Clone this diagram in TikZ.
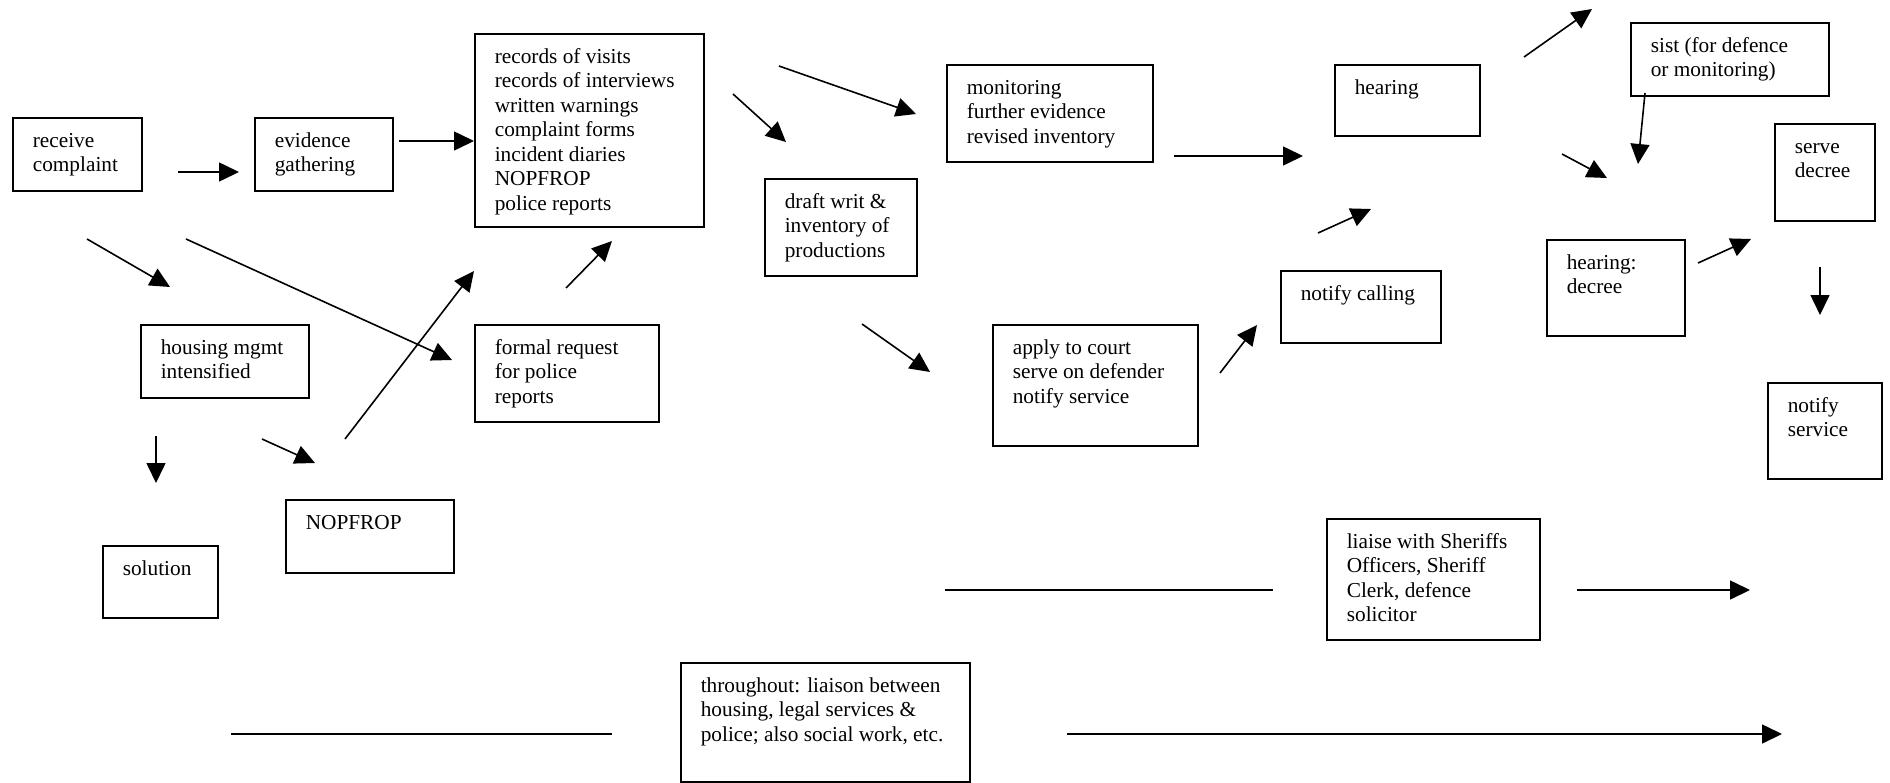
\documentclass[tikz,border=0pt]{standalone}
\usepackage{fontspec}
\setmainfont{Liberation Serif}
\usetikzlibrary{arrows.meta}
\newcommand{\bc}[3]{\parbox[t][\dimexpr#2pt/2-12.1pt\relax][t]{\dimexpr#1pt/2-20pt\relax}{\begin{tabular}[t]{@{}l@{}}#3\end{tabular}}}
\tikzset{
  bx/.style={draw, rectangle, line width=0.8pt, inner xsep=10pt, inner ysep=6.05pt, anchor=north west,
             font=\fontsize{10.65}{12.25}\selectfont},
  arr/.style={line width=0.8pt, -{Triangle[length=10pt,width=9.5pt]}},
  ln/.style={line width=0.8pt}
}
\begin{document}
\begin{tikzpicture}[x=0.5pt,y=-0.5pt]
\useasboundingbox (0,0) rectangle (1890,782);
% boxes
\node[bx] (rc)   at (12,117)   {\bc{129}{73}{receive\\complaint}};
\node[bx] (eg)   at (254,117)  {\bc{138}{73}{evidence\\gathering}};
\node[bx] (rec)  at (474,33)   {\bc{229}{193}{records of visits\\records of interviews\\written warnings\\complaint forms\\incident diaries\\NOPFROP\\police reports}};
\node[bx] (hm)   at (140,324)  {\bc{168}{73}{housing mgmt\\intensified}};
\node[bx] (fr)   at (474,324)  {\bc{184}{97}{formal request\\for police\\reports}};
\node[bx] (np)   at (285,499)  {\bc{168}{73}{NOPFROP}};
\node[bx] (sol)  at (102,545)  {\bc{115}{72}{solution}};
\node[bx] (dw)   at (764,178)  {\bc{152}{97}{draft writ \&\\inventory of\\productions}};
\node[bx] (mon)  at (946,64)   {\bc{206}{97}{monitoring\\further evidence\\revised inventory}};
\node[bx] (ap)   at (992,324)  {\bc{205}{121}{apply to court\\serve on defender\\notify service}};
\node[bx] (nc)   at (1280,270) {\bc{160}{72}{notify calling}};
\node[bx] (hr)   at (1334,64)  {\bc{145}{71}{hearing}};
\node[bx] (sist) at (1630,22)  {\bc{198}{73}{sist (for defence\\or monitoring)}};
\node[bx] (sd)   at (1774,123) {\bc{100}{97}{serve\\decree}};
\node[bx] (hd)   at (1546,239) {\bc{138}{96}{hearing:\\decree}};
\node[bx] (ns)   at (1767,382) {\bc{114}{96}{notify\\service}};
\node[bx] (li)   at (1326,518) {\bc{213}{121}{liaise with Sheriffs\\Officers, Sheriff\\Clerk, defence\\solicitor}};
\node[bx] (th)   at (680,662)  {\bc{289}{119}{throughout: liaison between\\housing, legal services \&\\police; also social work, etc.}};
% arrow end points
\coordinate (a1s) at (178,172);  \coordinate (a1e) at (239,172);
\coordinate (a2s) at (399,141);  \coordinate (a2e) at (474,141);
\coordinate (a3s) at (87,239);   \coordinate (a3e) at (170,287);
\coordinate (a4s) at (186,239);  \coordinate (a4e) at (452,360);
\coordinate (a5s) at (345,439);  \coordinate (a5e) at (474,271);
\coordinate (a6s) at (566,288);  \coordinate (a6e) at (612,241);
\coordinate (a7s) at (156,436);  \coordinate (a7e) at (156,483);
\coordinate (a8s) at (262,439);  \coordinate (a8e) at (315,463);
\coordinate (a9s) at (733,94);   \coordinate (a9e) at (786,142);
\coordinate (a10s) at (779,66);  \coordinate (a10e) at (916,114);
\coordinate (a11s) at (1174,156); \coordinate (a11e) at (1303,156);
\coordinate (a12s) at (862,324); \coordinate (a12e) at (930,372);
\coordinate (a13s) at (1220,373); \coordinate (a13e) at (1257,325);
\coordinate (a14s) at (1318,233); \coordinate (a14e) at (1371,209);
\coordinate (a15s) at (1524,57); \coordinate (a15e) at (1592,9);
\coordinate (a16s) at (1562,154); \coordinate (a16e) at (1607,178);
\coordinate (a17s) at (1645,93); \coordinate (a17e) at (1638,164);
\coordinate (a18s) at (1698,263); \coordinate (a18e) at (1751,239);
\coordinate (a19s) at (1820,267); \coordinate (a19e) at (1820,315);
\coordinate (l0s) at (231,734);  \coordinate (l0e) at (612,734);
\coordinate (l1s) at (945,590);  \coordinate (l1e) at (1273,590);
\coordinate (l2s) at (1577,590); \coordinate (l2e) at (1750,590);
\coordinate (l3s) at (1067,734); \coordinate (l3e) at (1782,734);
% arrows
\foreach \i in {1,...,19} { \draw[arr] (a\i s) -- (a\i e); }
\draw[ln] (l0s) -- (l0e);
\draw[ln] (l1s) -- (l1e);
\draw[arr] (l2s) -- (l2e);
\draw[arr] (l3s) -- (l3e);
\end{tikzpicture}
\end{document}
